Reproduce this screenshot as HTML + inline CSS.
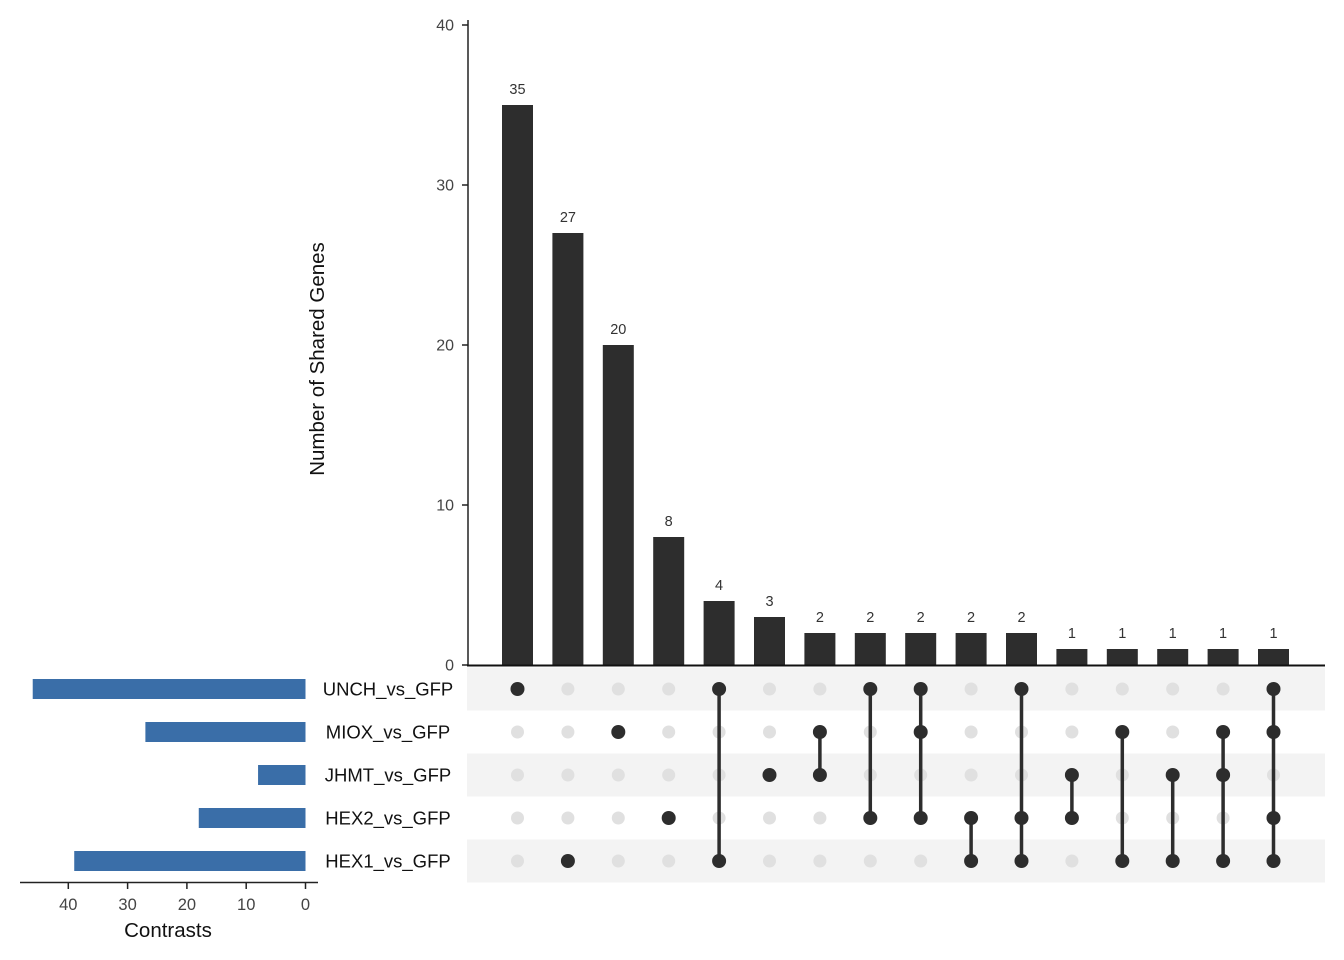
<!DOCTYPE html>
<html><head><meta charset="utf-8"><style>
body{margin:0;background:#fff;}
svg{display:block;font-family:"Liberation Sans",Arial,sans-serif;}
</style></head><body>
<svg id="c" width="1344" height="960" xmlns="http://www.w3.org/2000/svg"></svg>
<script>
const sets = ["UNCH_vs_GFP","MIOX_vs_GFP","JHMT_vs_GFP","HEX2_vs_GFP","HEX1_vs_GFP"];
const setSizes = [46,27,8,18,39];
const counts = [35,27,20,8,4,3,2,2,2,2,2,1,1,1,1,1];
const members = [[0],[4],[1],[3],[0,4],[2],[1,2],[0,3],[0,1,3],[3,4],[0,3,4],[2,3],[1,4],[2,4],[1,2,4],[0,1,3,4]];
const yTicks = [0,10,20,30,40];
const xTicks = [0,10,20,30,40];

const NS="http://www.w3.org/2000/svg", svg=document.getElementById('c');
function el(tag,attrs,txt){const e=document.createElementNS(NS,tag);for(const k in attrs)e.setAttribute(k,attrs[k]);if(txt!==undefined)e.textContent=txt;svg.appendChild(e);return e;}
const y=v=>665-v*16;
const colX=i=>517.5+i*50.4;
const rowY=j=>689+j*43;
const sx=v=>305.5-v*5.93;

for(let j=0;j<sets.length;j+=2){
  const r=el('rect',{x:467,y:rowY(j)-21.5,width:858,height:43,fill:'#f3f3f3'});
  
  
}
let a=el('line',{x1:468,y1:20,x2:468,y2:665,stroke:'#222','stroke-width':1.5});


yTicks.forEach(t=>{
  el('line',{x1:462,y1:y(t),x2:468,y2:y(t),stroke:'#222','stroke-width':1.5});
  const tl=el('text',{x:454,y:y(t)+5.5,'text-anchor':'end','font-size':16,fill:'#444'},t);
  
  
});
const yt=el('text',{x:0,y:0,transform:'translate(324,359) rotate(-90)','text-anchor':'middle','font-size':20.5,fill:'#111'},'Number of Shared Genes');


counts.forEach((v,i)=>{
  const b=el('rect',{x:colX(i)-15.5,y:y(v),width:31,height:665-y(v),fill:'#2d2d2d'});
  
  
  const t=el('text',{x:colX(i),y:y(v)-11,'text-anchor':'middle','font-size':14.5,fill:'#333'},v);
  
  
});
let base=el('line',{x1:467,y1:665.5,x2:1325,y2:665.5,stroke:'#111','stroke-width':2});


members.forEach((m,i)=>{
  for(let j=0;j<sets.length;j++){
    if(!m.includes(j)){const d=el('circle',{cx:colX(i),cy:rowY(j),r:6.5,fill:'#e0e0e0'});
      
      }
  }
  if(m.length>1){const l=el('line',{x1:colX(i),y1:rowY(Math.min(...m)),x2:colX(i),y2:rowY(Math.max(...m)),stroke:'#2d2d2d','stroke-width':3.5});
    
    }
  m.forEach(j=>{const d=el('circle',{cx:colX(i),cy:rowY(j),r:7,fill:'#2d2d2d'});
    
    });
});
sets.forEach((s,j)=>{
  const t=el('text',{x:388,y:rowY(j)+6.5,'text-anchor':'middle','font-size':18.5,fill:'#111'},s);
  
  
  const b=el('rect',{x:sx(setSizes[j]),y:rowY(j)-10,width:305.5-sx(setSizes[j]),height:20,fill:'#3a6ea8'});
  
  
});
let xa=el('line',{x1:20,y1:882.5,x2:318,y2:882.5,stroke:'#222','stroke-width':1.5});


xTicks.forEach(t=>{
  el('line',{x1:sx(t),y1:882,x2:sx(t),y2:889,stroke:'#222','stroke-width':1.5});
  const tl=el('text',{x:sx(t),y:910,'text-anchor':'middle','font-size':16.5,fill:'#444'},t);
  
  
});
const xt=el('text',{x:168,y:937,'text-anchor':'middle','font-size':20.5,fill:'#111'},'Contrasts');


</script>
</body></html>
